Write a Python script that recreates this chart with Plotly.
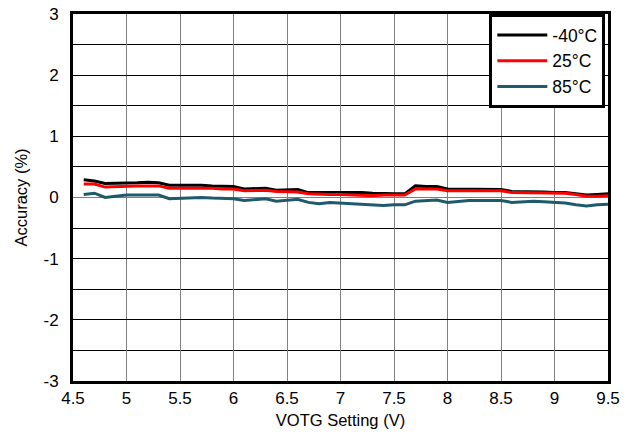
import plotly.graph_objects as go

votg = [4.6, 4.7, 4.8, 4.9, 5.0, 5.1, 5.2, 5.3, 5.4, 5.5,
        5.6, 5.7, 5.8, 5.9, 6.0, 6.1, 6.2, 6.3, 6.4, 6.5,
        6.6, 6.7, 6.8, 6.9, 7.0, 7.1, 7.2, 7.3, 7.4, 7.5,
        7.6, 7.7, 7.8, 7.9, 8.0, 8.1, 8.2, 8.3, 8.4, 8.5,
        8.6, 8.7, 8.8, 8.9, 9.0, 9.1, 9.2, 9.3, 9.4, 9.5]

acc_m40 = [0.29, 0.27, 0.23, 0.23, 0.24, 0.24, 0.25, 0.24, 0.20, 0.20,
           0.21, 0.20, 0.19, 0.18, 0.18, 0.14, 0.15, 0.15, 0.12, 0.13,
           0.13, 0.08, 0.08, 0.09, 0.09, 0.08, 0.08, 0.07, 0.06, 0.06,
           0.06, 0.19, 0.18, 0.18, 0.14, 0.14, 0.14, 0.14, 0.13, 0.13,
           0.10, 0.10, 0.10, 0.09, 0.08, 0.08, 0.06, 0.04, 0.05, 0.06]

acc_25 = [0.22, 0.22, 0.17, 0.18, 0.19, 0.19, 0.19, 0.19, 0.15, 0.15,
          0.16, 0.16, 0.15, 0.14, 0.14, 0.11, 0.11, 0.12, 0.10, 0.10,
          0.09, 0.06, 0.05, 0.05, 0.05, 0.04, 0.04, 0.03, 0.04, 0.04,
          0.04, 0.14, 0.14, 0.14, 0.11, 0.11, 0.11, 0.11, 0.11, 0.11,
          0.08, 0.08, 0.08, 0.08, 0.07, 0.07, 0.05, 0.02, 0.02, 0.03]

acc_85 = [0.05, 0.07, 0.00, 0.02, 0.04, 0.04, 0.04, 0.04, -0.02, -0.01,
          0.00, 0.00, -0.01, -0.02, -0.02, -0.05, -0.03, -0.02, -0.06, -0.04,
          -0.03, -0.08, -0.10, -0.08, -0.09, -0.10, -0.10, -0.11, -0.13, -0.12,
          -0.12, -0.06, -0.05, -0.04, -0.08, -0.06, -0.05, -0.05, -0.05, -0.05,
          -0.08, -0.07, -0.06, -0.07, -0.08, -0.09, -0.12, -0.14, -0.12, -0.11]

names = ["-40°C", "25°C", "85°C"]
colors = ["#000000", "#FF0000", "#1F5A6A"]
series = [acc_m40, acc_25, acc_85]

x_ticks = [4.5, 5, 5.5, 6, 6.5, 7, 7.5, 8, 8.5, 9, 9.5]
x_ticklabels = ["4.5", "5", "5.5", "6", "6.5", "7", "7.5", "8", "8.5", "9", "9.5"]
y_ticks = [-3, -2, -1, 0, 1, 2, 3]
y_ticklabels = ["-3", "-2", "-1", "0", "1", "2", "3"]

fig = go.Figure()
for nm, col, ys in zip(names, colors, series):
    fig.add_trace(go.Scatter(x=votg, y=ys, mode="lines", name=nm,
                             line=dict(color=col, width=3)))

font = "Liberation Sans, Arial, sans-serif"
fig.update_layout(
    width=632, height=439,
    margin=dict(l=73, r=24, t=14, b=58, autoexpand=False),
    plot_bgcolor="white", paper_bgcolor="white",
    font=dict(family=font, size=17, color="black"),
    showlegend=True,
    legend=dict(x=0.995, y=1, xanchor="right", yanchor="top",
                bgcolor="white", bordercolor="black", borderwidth=3,
                font=dict(size=17.5), tracegroupgap=0,
                itemwidth=50),
)
fig.update_xaxes(
    range=[4.5, 9.5], tickvals=x_ticks, ticktext=x_ticklabels,
    showgrid=True, gridcolor="#808080", gridwidth=1,
    showline=True, linecolor="black", linewidth=3, mirror=True,
    ticks="", zeroline=False, automargin=False, ticklabelstandoff=0,
    ticklabeloverflow="allow",
    title=dict(text="VOTG Setting (V)", font=dict(size=16.5), standoff=8),
    tickfont=dict(size=17),
)
fig.update_yaxes(
    range=[-3, 3], tickvals=y_ticks, ticktext=y_ticklabels,
    showgrid=True, gridcolor="#000000", gridwidth=1,
    minor=dict(dtick=0.5, tick0=0, showgrid=True, gridcolor="#000000", gridwidth=1),
    showline=True, linecolor="black", linewidth=3, mirror=True,
    ticks="", zeroline=True, zerolinecolor="#808080", zerolinewidth=1,
    automargin=False, ticklabelstandoff=8, ticklabeloverflow="allow",
    title=dict(text="Accuracy (%)", font=dict(size=16.5), standoff=12),
    tickfont=dict(size=17),
)

fig.write_html("out.html",
               config={"displayModeBar": False},
               post_script="document.body.style.margin='0';document.body.style.overflow='hidden';")
